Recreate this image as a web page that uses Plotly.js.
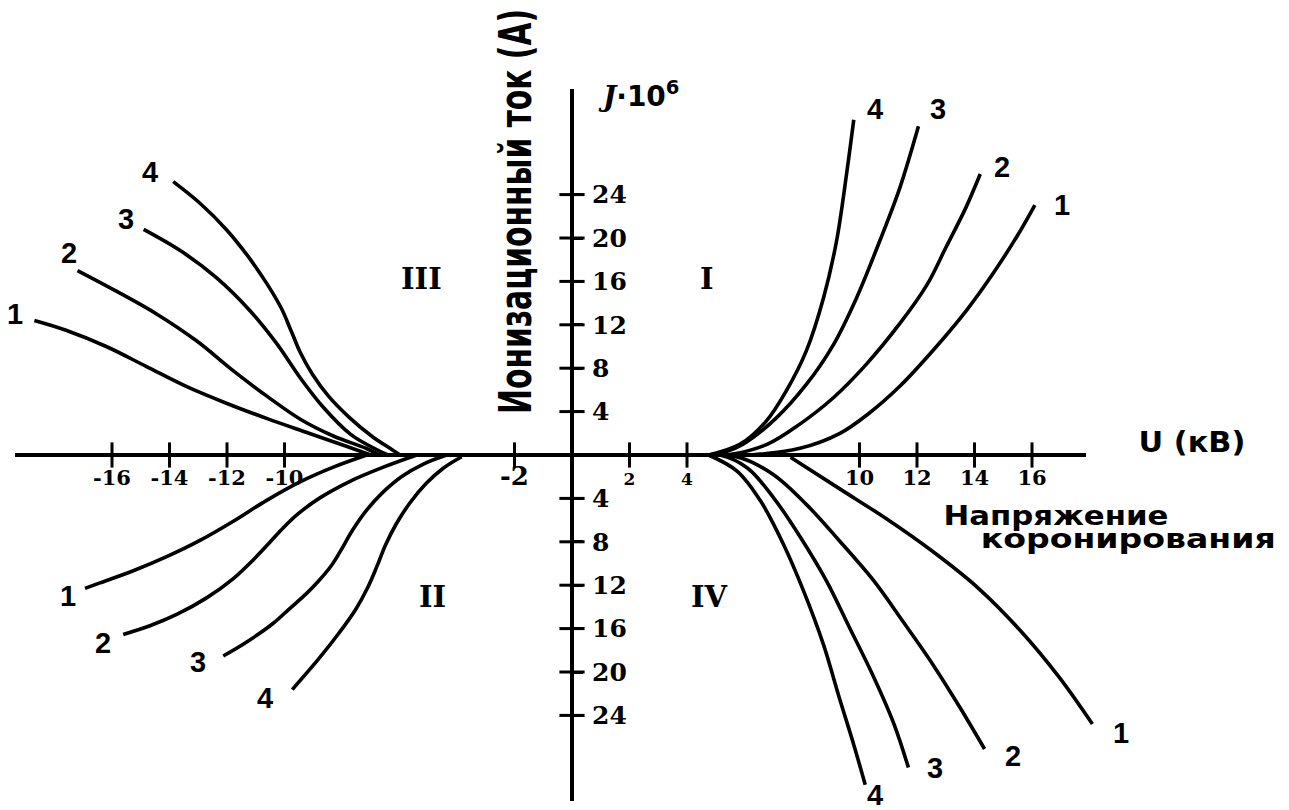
<!DOCTYPE html>
<html>
<head>
<meta charset="utf-8">
<script src="https://cdn.plot.ly/plotly-3.0.1.min.js"></script>
<style>
  html, body { margin: 0; padding: 0; background: #ffffff; }
  #chart { width: 1289px; height: 810px; }
</style>
</head>
<body>
<div id="chart"></div>
<script>
// Corona-discharge current J·10^6 (A) versus corona voltage U (kV), curves 1–4 in four quadrants.

// Quadrant I (U > 0, J > 0)
const q1_u1 = [4.75, 6.19, 7.93, 9.32, 10.3, 11.41, 12.57, 13.73, 14.65, 15.47, 16.1];
const q1_j1 = [0, 0, 0.62, 2.0, 3.78, 6.36, 9.68, 13.36, 16.75, 20.12, 23.04];
const q1_u2 = [4.75, 5.6, 6.8, 7.9, 9.1, 10.25, 11.4, 12.35, 13.0, 13.7, 14.2];
const q1_j2 = [0, 0.1, 1.0, 2.8, 5.3, 8.4, 12.1, 15.7, 19.1, 22.8, 25.9];
const q1_u3 = [4.75, 5.3, 5.95, 7.1, 8.15, 9.1, 9.9, 10.7, 11.4, 12.05];
const q1_j3 = [0, 0.25, 1.0, 3.4, 6.5, 10.2, 14.5, 19.7, 24.6, 30.3];
const q1_u4 = [4.75, 5.85, 6.75, 7.45, 8.15, 8.75, 9.2, 9.55, 9.8];
const q1_j4 = [0, 1.0, 3.1, 5.9, 9.6, 14.5, 19.7, 25.9, 30.9];

// Quadrant II (U < 0, J < 0)
const q2_u1 = [-7.14, -8.3, -9.46, -10.62, -11.78, -12.94, -14.1, -15.26, -16.42, -16.94];
const q2_j1 = [0, -1.12, -2.48, -4.18, -6.1, -7.87, -9.37, -10.67, -11.79, -12.29];
const q2_u2 = [-5.4, -6.56, -7.72, -8.77, -9.52, -10.04, -10.5, -11.09, -11.78, -12.71, -13.75, -14.68, -15.61];
const q2_j2 = [0, -1.12, -2.42, -3.95, -5.41, -6.7, -8.02, -9.67, -11.39, -13.17, -14.7, -15.74, -16.54];
const q2_u3 = [-4.36, -5.17, -5.92, -6.59, -7.15, -7.63, -8.05, -8.38, -8.83, -9.23, -9.81, -10.39, -11.3, -12.13];
const q2_j3 = [0, -0.83, -1.98, -3.47, -5.11, -6.92, -8.84, -10.23, -11.66, -12.75, -14.13, -15.51, -17.21, -18.53];
const q2_u4 = [-3.84, -4.48, -5.06, -5.64, -6.13, -6.49, -6.79, -7.11, -7.53, -8.13, -8.82, -9.73];
const q2_j4 = [-0.16, -1.22, -2.59, -4.42, -6.43, -8.32, -10.29, -12.24, -14.26, -16.5, -18.82, -21.62];

// Quadrant III (U < 0, J > 0)
const q3_u1 = [-18.7, -17.6, -16.2, -14.8, -13.4, -12.0, -10.6, -9.2, -7.85, -7.0];
const q3_j1 = [12.4, 11.5, 10.0, 8.15, 6.3, 4.75, 3.35, 2.05, 0.8, 0];
const q3_u2 = [-17.2, -15.85, -14.45, -13.05, -11.8, -10.6, -9.45, -8.3, -7.15, -6.7];
const q3_j2 = [17.0, 15.1, 13.0, 10.5, 7.8, 5.4, 3.3, 1.75, 0.6, 0];
const q3_u3 = [-14.9, -13.6, -12.35, -11.2, -10.25, -9.45, -8.65, -7.7, -6.8, -6.4];
const q3_j3 = [20.8, 18.8, 16.3, 13.3, 10.2, 7.1, 4.4, 1.9, 0.5, 0];
const q3_u4 = [-13.87, -12.94, -12.01, -11.26, -10.62, -10.11, -9.76, -9.45, -9.04, -8.47, -7.75, -6.95, -6.27, -5.98];
const q3_j4 = [25.19, 23.2, 20.74, 18.28, 15.82, 13.52, 11.38, 9.44, 7.49, 5.42, 3.47, 1.71, 0.51, 0];

// Quadrant IV (U > 0, J < 0)
const q4_u1 = [7.6, 9.3, 10.95, 12.55, 14.1, 15.6, 16.95, 18.1];
const q4_j1 = [-0.2, -3.1, -5.9, -8.9, -12.2, -16.2, -20.5, -24.8];
const q4_u2 = [4.75, 5.85, 7.0, 8.15, 9.3, 10.5, 11.5, 12.55, 13.5, 14.35];
const q4_j2 = [0, -0.25, -1.8, -4.55, -7.9, -11.6, -15.3, -19.3, -23.3, -27.1];
const q4_u3 = [4.75, 5.15, 6.1, 7.0, 7.95, 8.85, 9.65, 10.5, 11.2, 11.7];
const q4_j3 = [0, 0, -1.2, -3.9, -7.6, -11.6, -15.9, -20.5, -24.8, -28.8];
const q4_u4 = [4.75, 5.75, 6.55, 7.35, 8.05, 8.75, 9.3, 9.8, 10.2];
const q4_j4 = [0, -1.5, -4.2, -8.2, -12.5, -17.5, -22.4, -26.7, -30.4];

// Axis ticks and their labels
const u_ticks = [-16, -14, -12, -10, -2, 2, 4, 10, 12, 14, 16];
const u_tick_text = ['-16', '-14', '-12', '-10', '-2', '2', '4', '10', '12', '14', '16'];
const j_ticks = [24, 20, 16, 12, 8, 4, -4, -8, -12, -16, -20, -24];
const j_tick_text = ['24', '20', '16', '12', '8', '4', '4', '8', '12', '16', '20', '24'];
const curve_names = ['1', '2', '3', '4'];

// ---- page geometry (pixels) ----
const W = 1289, H = 810;
const X0 = 572, Y0 = 455;           // where the axes cross
const PX_U = 28.75, PX_J = 10.85;   // pixels per kV and per unit of J
const uAt = px => (px - X0) / PX_U;
const jAt = py => (Y0 - py) / PX_J;
const AX_LEFT = 15, AX_RIGHT = 1086, AX_TOP = 89, AX_BOTTOM = 801;

const SANS = 'DejaVu Sans, Arial, sans-serif';
const SERIF = 'DejaVu Serif, Times New Roman, serif';
const NUMF = 'Liberation Sans, Arial, sans-serif';

const quadrants = [
  {u: [q1_u1, q1_u2, q1_u3, q1_u4], j: [q1_j1, q1_j2, q1_j3, q1_j4], endAt: 'last',
   shift: [[27, 0], [22, 7], [20, 17], [21, 11]]},
  {u: [q2_u1, q2_u2, q2_u3, q2_u4], j: [q2_j1, q2_j2, q2_j3, q2_j4], endAt: 'last',
   shift: [[-17, -8], [-20, -9], [-25, -6], [-27, -8]]},
  {u: [q3_u1, q3_u2, q3_u3, q3_u4], j: [q3_j1, q3_j2, q3_j3, q3_j4], endAt: 'first',
   shift: [[-19, 6], [-9, 18], [-18, 10], [-23, 10]]},
  {u: [q4_u1, q4_u2, q4_u3, q4_u4], j: [q4_j1, q4_j2, q4_j3, q4_j4], endAt: 'last',
   shift: [[29, -9], [28, -7], [27, -1], [10, -10]]}
];

const traces = [];
const annotations = [];
const fitWidth = {};   // annotation index -> drawn text length in px

quadrants.forEach(q => {
  q.u.forEach((us, k) => {
    const js = q.j[k];
    traces.push({
      type: 'scatter', mode: 'lines', x: us, y: js, xaxis: 'x', yaxis: 'y',
      line: {color: '#000', width: 3.6, shape: 'spline', smoothing: 1},
      hoverinfo: 'skip', showlegend: false
    });
    const idx = q.endAt === 'last' ? us.length - 1 : 0;
    annotations.push({
      xref: 'x', yref: 'y', x: us[idx], y: js[idx],
      xanchor: 'center', yanchor: 'middle',
      xshift: q.shift[k][0], yshift: q.shift[k][1],
      text: curve_names[k], showarrow: false,
      font: {family: NUMF, size: 29, weight: 700, color: '#000'}
    });
  });
});

// Cross-shaped tick marks on both axes
traces.push({
  type: 'scatter', mode: 'markers', x: u_ticks, y: u_ticks.map(() => 0),
  xaxis: 'x2', yaxis: 'y2', cliponaxis: false, hoverinfo: 'skip', showlegend: false,
  marker: {symbol: 'line-ns', size: 18, line: {width: 3, color: '#000'}}
});
traces.push({
  type: 'scatter', mode: 'markers', x: j_ticks.map(() => 0), y: j_ticks,
  xaxis: 'x2', yaxis: 'y2', cliponaxis: false, hoverinfo: 'skip', showlegend: false,
  marker: {symbol: 'line-ew', size: 18, line: {width: 3, color: '#000'}}
});

// the -2 label is set larger, the 2 and 4 labels smaller
const uText = u_tick_text.map(t => {
  if (t === '-2') return '<span style="font-size:26px">' + t + '</span>';
  if (t === '2' || t === '4') return '<span style="font-size:17px">' + t + '</span>';
  return t;
});

function paperText(text, px, py, font, extra) {
  return Object.assign({
    xref: 'paper', yref: 'paper', x: px / W, y: 1 - py / H,
    xanchor: 'center', yanchor: 'middle',
    text: text, showarrow: false, font: font
  }, extra || {});
}

const roman = {family: SERIF, size: 29, weight: 700, color: '#000'};
annotations.push(paperText('III', 421, 279, roman));
annotations.push(paperText('I', 707, 279, roman));
annotations.push(paperText('II', 432, 597, roman));
annotations.push(paperText('IV', 709, 597, roman));

fitWidth[annotations.length] = 107;
annotations.push(paperText('U (кВ)', 1192, 442, {family: SANS, size: 29, weight: 700, color: '#000'}));
fitWidth[annotations.length] = 225;
annotations.push(paperText('Напряжение', 1056, 516, {family: SANS, size: 26, weight: 700, color: '#000'}));
fitWidth[annotations.length] = 295;
annotations.push(paperText('коронирования', 1128, 538, {family: SANS, size: 27, weight: 700, color: '#000'}));
fitWidth[annotations.length] = 405;
annotations.push(paperText('Ионизационный ток (А)', 515, 212,
  {family: SANS, size: 44, weight: 700, color: '#000'}, {textangle: -90}));
annotations.push(paperText('<span style="font-family:DejaVu Serif"><i>J</i></span>·10<sup>6</sup>', 639, 95,
  {family: SANS, size: 28, weight: 700, color: '#000'}));

const layout = {
  width: W, height: H, autosize: false,
  margin: {l: 0, r: 0, t: 0, b: 0, pad: 0},
  paper_bgcolor: '#fff', plot_bgcolor: 'rgba(0,0,0,0)',
  showlegend: false,
  xaxis: {domain: [0, 1], range: [uAt(0), uAt(W)], visible: false, fixedrange: true},
  yaxis: {domain: [0, 1], range: [jAt(H), jAt(0)], visible: false, fixedrange: true},
  xaxis2: {
    domain: [AX_LEFT / W, AX_RIGHT / W], range: [uAt(AX_LEFT), uAt(AX_RIGHT)],
    anchor: 'free', position: 1 - Y0 / H,
    showline: true, linewidth: 4, linecolor: '#000',
    showgrid: false, zeroline: false,
    tickmode: 'array', tickvals: u_ticks, ticktext: uText,
    ticks: '', ticklabelstandoff: 3,
    tickfont: {family: SERIF, size: 21, weight: 700, color: '#000'},
    fixedrange: true
  },
  yaxis2: {
    domain: [1 - AX_BOTTOM / H, 1 - AX_TOP / H], range: [jAt(AX_BOTTOM), jAt(AX_TOP)],
    anchor: 'free', position: X0 / W, side: 'right',
    showline: true, linewidth: 4, linecolor: '#000',
    showgrid: false, zeroline: false,
    tickmode: 'array', tickvals: j_ticks, ticktext: j_tick_text,
    ticks: 'outside', ticklen: 9, tickwidth: 3, tickcolor: '#000', ticklabelstandoff: 4,
    tickfont: {family: SERIF, size: 25, weight: 700, color: '#000'},
    fixedrange: true
  },
  annotations: annotations
};

// Stretch or condense a few captions along their reading direction to a set length.
function fitCaptions(gd) {
  gd.querySelectorAll('.annotation').forEach(g => {
    const i = +g.getAttribute('data-index');
    if (!(i in fitWidth)) return;
    const t = g.querySelector('text.annotation-text');
    if (!t) return;
    const w = t.getBBox().width;
    if (!w) return;
    t.style.transformBox = 'fill-box';
    t.style.transformOrigin = 'center';
    t.style.transform = 'scaleX(' + (fitWidth[i] / w).toFixed(4) + ')';
  });
}

const gd = document.getElementById('chart');
Plotly.newPlot(gd, traces, layout, {staticPlot: true, displayModeBar: false})
  .then(() => fitCaptions(gd));
</script>
</body>
</html>
